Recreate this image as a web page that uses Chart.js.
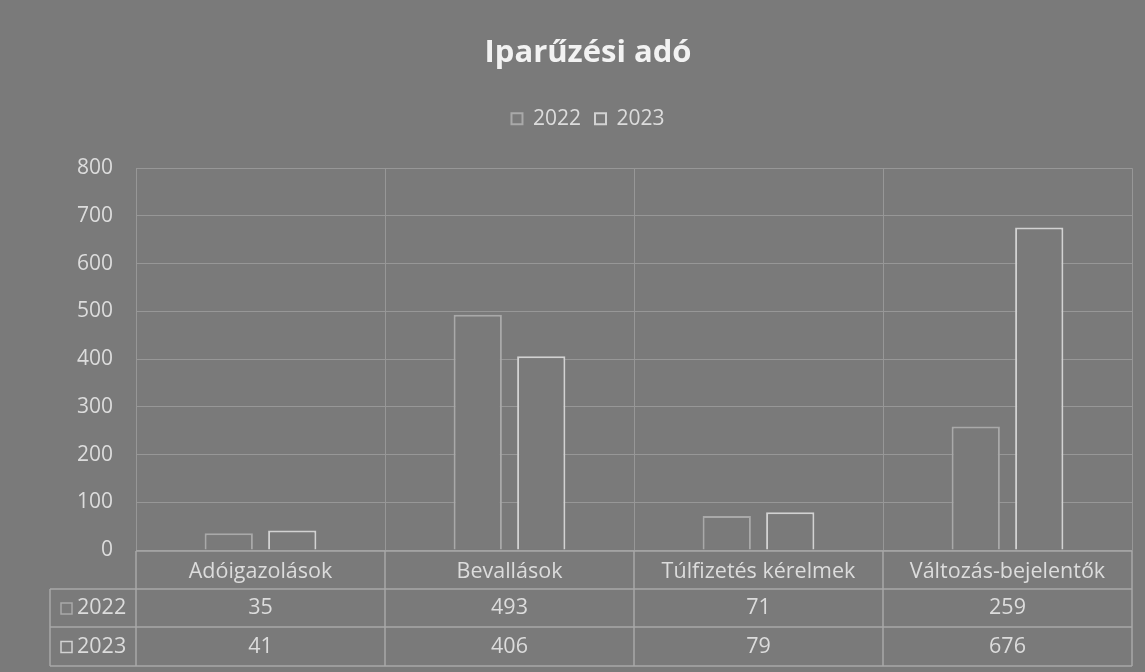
<!DOCTYPE html>
<html>
<head>
<meta charset="utf-8">
<script src="https://cdn.jsdelivr.net/npm/chart.js@4/dist/chart.umd.min.js"></script>
<style>
  html,body{margin:0;padding:0;background:#7a7a7a;}
  #wrap{width:1145px;height:672px;position:relative;}
</style>
</head>
<body>
<div id="wrap"><canvas id="c" width="1145" height="672"></canvas></div>
<script>
const chartTitle = 'Iparűzési adó';
const categories = ['Adóigazolások', 'Bevallások', 'Túlfizetés kérelmek', 'Változás-bejelentők'];
const seriesNames = ['2022', '2023'];
const values2022 = [35, 493, 71, 259];
const values2023 = [41, 406, 79, 676];
const yMin = 0, yMax = 800, yStep = 100;

const BG = '#7a7a7a';
const GRID = '#979797';
const TEXT = '#dcdcdc';
const FONT = "'Open Sans', 'DejaVu Sans', sans-serif";
const seriesBorder = ['#a9a9a9', '#d2d2d2'];
const seriesValues = [values2022, values2023];

const bgPlugin = {
  id: 'bg',
  beforeInit(chart) {
    const lg = chart.legend;
    if (lg && !lg._patched) {
      const orig = lg.fit;
      lg.fit = function () { orig.call(this); this.height += 29; };
      lg._patched = true;
    }
  },
  beforeDraw(chart) {
    const ctx = chart.ctx;
    ctx.save();
    ctx.fillStyle = BG;
    ctx.fillRect(0, 0, chart.width, chart.height);
    ctx.restore();
  }
};

const tablePlugin = {
  id: 'dataTable',
  afterDraw(chart) {
    const ctx = chart.ctx;
    const x = chart.scales.x;
    const area = chart.chartArea;
    const n = categories.length;
    const colW = (area.right - area.left) / n;
    const top = area.bottom + 1;
    const rowH = [38, 38, 39];
    const y1 = top + rowH[0], y2 = y1 + rowH[1], y3 = y2 + rowH[2];
    const leftX = 50;
    ctx.save();
    ctx.strokeStyle = '#a8a8a8';
    ctx.lineWidth = 1.5;
    ctx.beginPath();
    ctx.moveTo(area.left, top); ctx.lineTo(area.right, top);
    ctx.moveTo(leftX, y1); ctx.lineTo(area.right, y1);
    ctx.moveTo(leftX, y2); ctx.lineTo(area.right, y2);
    ctx.moveTo(leftX, y3); ctx.lineTo(area.right, y3);
    ctx.moveTo(leftX, y1); ctx.lineTo(leftX, y3);
    for (let i = 0; i <= n; i++) {
      const cx = area.left + i * colW;
      ctx.moveTo(cx, top); ctx.lineTo(cx, y3);
    }
    ctx.stroke();

    ctx.fillStyle = TEXT;
    ctx.font = '21.5px ' + FONT;
    ctx.textAlign = 'center';
    ctx.textBaseline = 'middle';
    for (let i = 0; i < n; i++) {
      const cx = x.getPixelForValue(i);
      ctx.fillText(categories[i], cx, top + rowH[0] / 2 + 2);
      ctx.fillText(String(values2022[i]), cx, y1 + rowH[1] / 2);
      ctx.fillText(String(values2023[i]), cx, y2 + rowH[2] / 2);
    }
    const rowsY = [y1 + rowH[1] / 2, y2 + rowH[2] / 2];
    for (let s = 0; s < seriesNames.length; s++) {
      ctx.strokeStyle = seriesBorder[s];
      ctx.lineWidth = 1.5;
      ctx.strokeRect(leftX + 11, rowsY[s] - 5, 11, 11);
      ctx.fillStyle = TEXT;
      ctx.textAlign = 'left';
      ctx.fillText(seriesNames[s], leftX + 27, rowsY[s]);
    }
    ctx.restore();
  }
};

new Chart(document.getElementById('c'), {
  type: 'bar',
  data: {
    labels: categories,
    datasets: seriesNames.map((name, i) => ({
      label: name,
      data: seriesValues[i],
      backgroundColor: BG,
      borderColor: seriesBorder[i],
      borderWidth: 2,
      barPercentage: 0.76,
      categoryPercentage: 0.51
    }))
  },
  options: {
    responsive: false,
    animation: false,
    devicePixelRatio: 1,
    layout: { padding: { left: 44, right: 13, top: 0, bottom: 122 } },
    plugins: {
      title: {
        display: true,
        text: chartTitle,
        color: '#f2f2f2',
        font: { family: FONT, size: 31, weight: 'bold' },
        padding: { top: 35, bottom: 22 }
      },
      legend: {
        display: true,
        position: 'top',
        labels: {
          color: TEXT,
          font: { family: FONT, size: 21 },
          boxWidth: 11,
          boxHeight: 11,
          padding: 14
        }
      },
      tooltip: { enabled: false }
    },
    scales: {
      x: {
        ticks: { display: false },
        grid: { color: GRID, lineWidth: 1, drawTicks: false, offset: true },
        border: { display: true, color: GRID }
      },
      y: {
        min: yMin, max: yMax,
        ticks: {
          stepSize: yStep,
          color: TEXT,
          font: { family: FONT, size: 21 },
          padding: 23
        },
        grid: { color: GRID, lineWidth: 1, drawTicks: false },
        border: { display: true, color: GRID },
        afterFit(scale) { scale.width = 92; }
      }
    }
  },
  plugins: [bgPlugin, tablePlugin]
});
</script>
</body>
</html>
